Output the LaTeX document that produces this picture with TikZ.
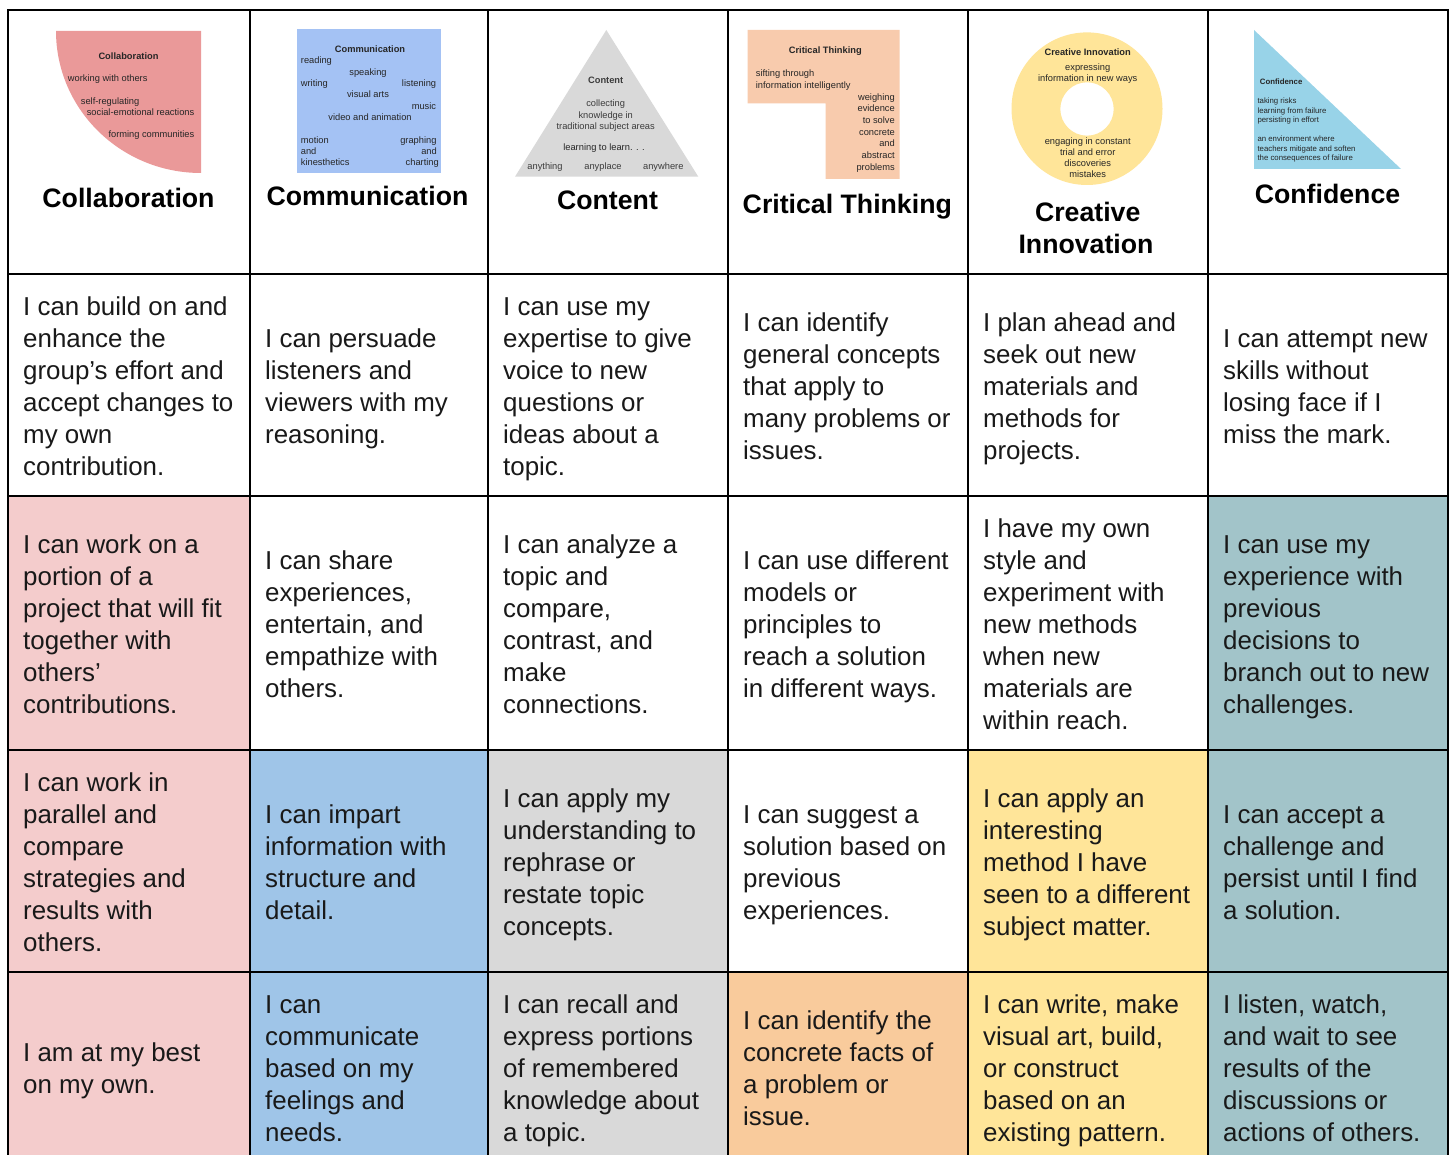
\documentclass[tikz,border=0pt]{standalone}
\usepackage{fontspec}
\setmainfont{Liberation Sans}
\definecolor{cpink}{HTML}{F4CCCC}
\definecolor{cblue}{HTML}{9FC5E8}
\definecolor{cgray}{HTML}{D9D9D9}
\definecolor{corange}{HTML}{F9CB9C}
\definecolor{cyellow}{HTML}{FFE599}
\definecolor{cteal}{HTML}{A2C4C9}
\definecolor{scollab}{HTML}{EA9999}
\definecolor{scomm}{HTML}{A4C2F4}
\definecolor{scrit}{HTML}{F8CBAD}
\definecolor{sconf}{HTML}{98D3E8}
\definecolor{sgrey}{HTML}{3C3C3C}
\tikzset{
 body/.style={inner sep=0pt,anchor=west,align=left,font=\fontsize{25.9}{32}\selectfont,text=black!90},
 head/.style={inner sep=0pt,anchor=base,font=\fontsize{26.7}{32}\selectfont\bfseries},
 sm/.style={inner sep=0pt,font=\fontsize{9.3}{11}\selectfont,text=black!85},
 smb/.style={sm,font=\fontsize{9.3}{11}\selectfont\bfseries},
 tiny/.style={inner sep=0pt,font=\fontsize{7.8}{10}\selectfont,text=black!85},
 tinyb/.style={tiny,font=\fontsize{7.8}{10}\selectfont\bfseries},
 lw/.style={anchor=base west}, lc/.style={anchor=base}, le/.style={anchor=base east},
 cellfill/.style={fill=#1,draw=none},
 grid/.style={line width=2pt,draw=black}
}
\newcommand{\bodycell}[4]{\node[body] (#1) at (#2,#3) {\strut #4\strut};}
\begin{document}
\begin{tikzpicture}[x=1pt,y=-1pt]
\useasboundingbox (0,0) rectangle (1450,1155);
\fill[white] (0,0) rectangle (1450,1155);
\begin{scope}
\clip (0,0) rectangle (1450,1155);
% cell fills
\fill[cellfill=cpink] (8,496) rectangle (250,1160);
\fill[cellfill=cblue] (250,750) rectangle (488,1160);
\fill[cellfill=cgray] (488,750) rectangle (728,1160);
\fill[cellfill=corange] (728,972) rectangle (968,1160);
\fill[cellfill=cyellow] (968,750) rectangle (1208,1160);
\fill[cellfill=cteal] (1208,496) rectangle (1448,1160);
% grid
\draw[grid] (8,1160) -- (8,10) -- (1448,10) -- (1448,1160);
\foreach \gx in {250,488,728,968,1208} \draw[grid] (\gx,10) -- (\gx,1160);
\foreach \gy in {274,496,750,972} \draw[grid] (8,\gy) -- (1448,\gy);
\end{scope}
% small shapes
\fill[scollab] (56,31) arc[start angle=180,end angle=90,x radius=145,y radius=142] -- (201,31) -- cycle;
\fill[scomm] (297.3,29.3) rectangle (440.7,172.7);
\fill[cgray] (606.3,30) -- (698.3,176.7) -- (515,176.7) -- cycle;
\fill[scrit] (747.7,30) -- (899.7,30) -- (899.7,179) -- (825.7,179) -- (825.7,103.5) -- (747.7,103.5) -- cycle;
\fill[cyellow,even odd rule] (1087,108.7) ellipse[x radius=75.5,y radius=76.3] (1087,109) circle[radius=26.7];
\fill[sconf] (1254,30) -- (1401,169) -- (1254,169) -- cycle;
% collaboration thumbnail
\node[smb,lc] (a0) at (128.5,59.5) {Collaboration};
\node[sm,lw] (a1) at (67.7,81.5) {working with others};
\node[sm,lw] (a2) at (80.7,104.5) {self-regulating};
\node[sm,le] (a3) at (194.5,115.5) {social-emotional reactions};
\node[sm,le] (a4) at (194.5,138) {forming communities};
% communication thumbnail
\node[smb,lc] (b0) at (370,53) {Communication};
\node[sm,lw] (b1) at (300.7,64) {reading};
\node[sm,lc] (b2) at (368,75.5) {speaking};
\node[sm,lw] (b3) at (300.7,86.5) {writing};
\node[sm,le] (b4) at (436.3,86.5) {listening};
\node[sm,lc] (b5) at (368,98) {visual arts};
\node[sm,le] (b6) at (436.3,109.5) {music};
\node[sm,lc] (b7) at (370,120.5) {video and animation};
\node[sm,lw] (b8) at (300.7,143.5) {motion};
\node[sm,le] (b9) at (436.7,143.5) {graphing};
\node[sm,lw] (b10) at (300.7,154.5) {and};
\node[sm,le] (b11) at (437,154.5) {and};
\node[sm,lw] (b12) at (300.7,165.5) {kinesthetics};
\node[sm,le] (b13) at (439,165.5) {charting};
% content thumbnail
\node[smb,lc,text=sgrey] (c0) at (605.7,83.5) {Content};
\node[sm,lc,text=sgrey] (c1) at (605.7,107) {collecting};
\node[sm,lc,text=sgrey] (c2) at (605.7,118.5) {knowledge in};
\node[sm,lc,text=sgrey] (c3) at (605.7,130) {traditional subject areas};
\node[sm,lc] (c4) at (604,151) {learning to learn. . .};
\node[sm,lc,text=sgrey] (c5) at (545,169.5) {anything};
\node[sm,lc,text=sgrey] (c6) at (603,169.5) {anyplace};
\node[sm,lc,text=sgrey] (c7) at (663.3,169.5) {anywhere};
% critical thinking thumbnail
\node[smb,lc] (d0) at (825.3,53.5) {Critical Thinking};
\node[sm,lw] (d1) at (755.7,77) {sifting through};
\node[sm,lw] (d2) at (755.7,88.5) {information intelligently};
\node[sm,le] (d3) at (895,100.5) {weighing};
\node[sm,le] (d4) at (895,112) {evidence};
\node[sm,le] (d5) at (895,123.5) {to solve};
\node[sm,le] (d6) at (895,135.5) {concrete};
\node[sm,le] (d7) at (895,147) {and};
\node[sm,le] (d8) at (895,159) {abstract};
\node[sm,le] (d9) at (895,170.5) {problems};
% creative innovation thumbnail
\node[smb,lc] (e0) at (1087.7,55.5) {Creative Innovation};
\node[sm,lc] (e1) at (1087.7,71) {expressing};
\node[sm,lc] (e2) at (1087.7,82) {information in new ways};
\node[sm,lc] (e3) at (1087.7,144.5) {engaging in constant};
\node[sm,lc] (e4) at (1087.7,155.5) {trial and error};
\node[sm,lc] (e5) at (1087.7,166.5) {discoveries};
\node[sm,lc] (e6) at (1087.7,177.5) {mistakes};
% confidence thumbnail
\node[tinyb,lw] (f0) at (1259.7,85) {Confidence};
\node[tiny,lw] (f1) at (1257.3,104) {taking risks};
\node[tiny,lw] (f2) at (1257.3,113.5) {learning from failure};
\node[tiny,lw] (f3) at (1257.3,123) {persisting in effort};
\node[tiny,lw] (f4) at (1257.3,142) {an environment where};
\node[tiny,lw] (f5) at (1257.3,151.5) {teachers mitigate and soften};
\node[tiny,lw] (f6) at (1257.3,161) {the consequences of failure};
% headers
\node[head] (h1) at (128.5,208) {Collaboration};
\node[head] (h2) at (367.5,206) {Communication};
\node[head] (h3) at (607.5,210) {Content};
\node[head] (h4) at (847.3,214) {Critical Thinking};
\node[head] (h5a) at (1087.7,222) {Creative};
\node[head] (h5b) at (1086,254) {Innovation};
\node[head] (h6) at (1327.5,204) {Confidence};
% row 2
\bodycell{r2a}{23}{389}{I can build on and\\enhance the\\group’s effort and\\accept changes to\\my own\\contribution.}
\bodycell{r2b}{265}{389}{I can persuade\\listeners and\\viewers with my\\reasoning.}
\bodycell{r2c}{503}{389}{I can use my\\expertise to give\\voice to new\\questions or\\ideas about a\\topic.}
\bodycell{r2d}{743}{389}{I can identify\\general concepts\\that apply to\\many problems or\\issues.}
\bodycell{r2e}{983}{389}{I plan ahead and\\seek out new\\materials and\\methods for\\projects.}
\bodycell{r2f}{1223}{389}{I can attempt new\\skills without\\losing face if I\\miss the mark.}
% row 3
\bodycell{r3a}{23}{627}{I can work on a\\portion of a\\project that will fit\\together with\\others’\\contributions.}
\bodycell{r3b}{265}{627}{I can share\\experiences,\\entertain, and\\empathize with\\others.}
\bodycell{r3c}{503}{627}{I can analyze a\\topic and\\compare,\\contrast, and\\make\\connections.}
\bodycell{r3d}{743}{627}{I can use different\\models or\\principles to\\reach a solution\\in different ways.}
\bodycell{r3e}{983}{627}{I have my own\\style and\\experiment with\\new methods\\when new\\materials are\\within reach.}
\bodycell{r3f}{1223}{627}{I can use my\\experience with\\previous\\decisions to\\branch out to new\\challenges.}
% row 4
\bodycell{r4a}{23}{865}{I can work in\\parallel and\\compare\\strategies and\\results with\\others.}
\bodycell{r4b}{265}{865}{I can impart\\information with\\structure and\\detail.}
\bodycell{r4c}{503}{865}{I can apply my\\understanding to\\rephrase or\\restate topic\\concepts.}
\bodycell{r4d}{743}{865}{I can suggest a\\solution based on\\previous\\experiences.}
\bodycell{r4e}{983}{865}{I can apply an\\interesting\\method I have\\seen to a different\\subject matter.}
\bodycell{r4f}{1223}{865}{I can accept a\\challenge and\\persist until I find\\a solution.}
% row 5
\bodycell{r5a}{23}{1071}{I am at my best\\on my own.}
\bodycell{r5b}{265}{1071}{I can\\communicate\\based on my\\feelings and\\needs.}
\bodycell{r5c}{503}{1071}{I can recall and\\express portions\\of remembered\\knowledge about\\a topic.}
\bodycell{r5d}{743}{1071}{I can identify the\\concrete facts of\\a problem or\\issue.}
\bodycell{r5e}{983}{1071}{I can write, make\\visual art, build,\\or construct\\based on an\\existing pattern.}
\bodycell{r5f}{1223}{1071}{I listen, watch,\\and wait to see\\results of the\\discussions or\\actions of others.}
\end{tikzpicture}
\end{document}
